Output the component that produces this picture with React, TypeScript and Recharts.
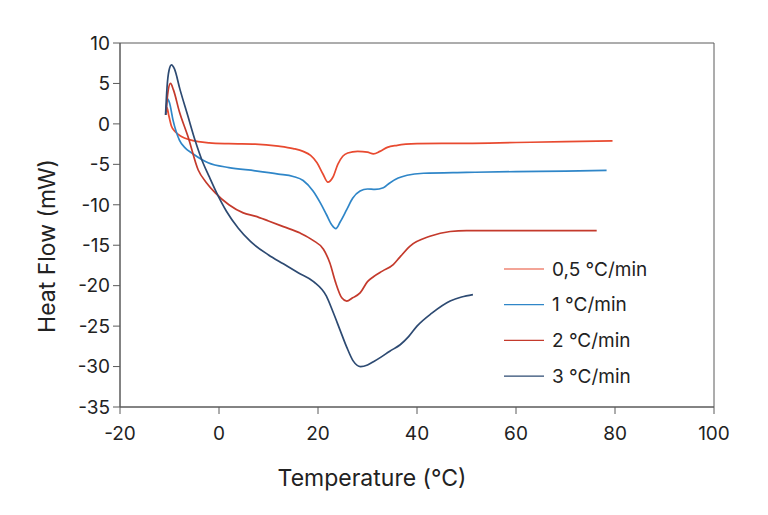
import { LineChart, Line, XAxis, YAxis, ReferenceArea, Label } from "recharts";

// heating rates
const rates = ["0,5 °C/min", "1 °C/min", "2 °C/min", "3 °C/min"];
const colors = ["#e84a30", "#2f86c8", "#c43a2c", "#2d4a72"];

const xTicks = [-20, 0, 20, 40, 60, 80, 100];
const yTicks = [10, 5, 0, -5, -10, -15, -20, -25, -30, -35];

const t05 = [-10.7, -10.5, -10.2, -9.6, -8.8, -7.6, -6, -4.2, -2, 2, 7.3, 12, 15, 17, 18.5, 19.8, 21, 22, 23, 24, 25, 26, 28, 30, 31.2, 32.5, 34, 36, 40, 45, 50, 60, 70, 79.5];
const hf05 = [1.1, 2.0, 1.2, -0.3, -1.0, -1.55, -1.95, -2.2, -2.35, -2.45, -2.5, -2.75, -3.05, -3.4, -3.9, -4.8, -6.2, -7.2, -6.6, -5.0, -4.0, -3.6, -3.4, -3.5, -3.7, -3.4, -2.9, -2.65, -2.45, -2.4, -2.4, -2.3, -2.2, -2.1];

const t1 = [-10.7, -10.4, -10.0, -9.3, -8.0, -6.8, -5.5, -3.5, -2.2, 2, 7.3, 12, 15, 17, 19, 20.5, 21.7, 22.8, 23.6, 24.5, 25.8, 27, 28.5, 30, 31.5, 33.2, 34.5, 36.2, 38, 41.3, 50, 60, 70, 78.3];
const hf1 = [1.3, 3.1, 2.6, 0.5, -2.0, -3.0, -3.6, -4.4, -4.8, -5.4, -5.8, -6.2, -6.5, -7.0, -8.3, -9.8, -11.2, -12.5, -12.95, -12.1, -10.6, -9.2, -8.3, -8.05, -8.1, -7.9, -7.3, -6.7, -6.35, -6.1, -6.0, -5.9, -5.85, -5.75];

const t2 = [-10.7, -10.3, -9.8, -9.2, -8.0, -6.3, -4.2, -2.5, -0.8, 2, 4.9, 7.3, 10, 13, 16.4, 19, 21.1, 22.4, 23.5, 24.8, 25.8, 27, 28.5, 30, 31.2, 33, 35.2, 36.5, 38.6, 42.6, 46.7, 50, 60, 76.3];
const hf2 = [1.5, 4.0, 5.0, 4.2, 1.5, -1.5, -5.7, -7.3, -8.5, -10.0, -11.0, -11.4, -12.0, -12.7, -13.5, -14.4, -15.5, -17.2, -19.5, -21.5, -21.9, -21.5, -20.9, -19.5, -18.9, -18.2, -17.4, -16.5, -15.1, -13.9, -13.3, -13.2, -13.2, -13.2];

const t3 = [-10.8, -10.5, -10.1, -9.6, -9.0, -7.9, -6.3, -4.85, -3.5, -2, -0.5, 1.5, 3.9, 6.3, 10, 13, 16, 19.1, 21.7, 23, 24.4, 25.8, 27.1, 28.6, 30, 31.2, 32.8, 34.5, 36.6, 38.3, 40, 43, 46.7, 49, 51.3];
const hf3 = [1.1, 4.5, 6.6, 7.3, 6.8, 4.3, 1.0, -2.0, -4.4, -6.5, -8.5, -10.8, -12.9, -14.5, -16.2, -17.3, -18.4, -19.5, -21.3, -23.2, -25.4, -27.6, -29.3, -30.0, -29.8, -29.4, -28.8, -28.1, -27.3, -26.3, -25.0, -23.4, -21.9, -21.4, -21.1];

const toRows = (t: number[], hf: number[]) => t.map((x, i) => ({ t: x, hf: hf[i] }));
const series = [toRows(t05, hf05), toRows(t1, hf1), toRows(t2, hf2), toRows(t3, hf3)];

const font = "Inter, 'DejaVu Sans', sans-serif";
const axisColor = "#5a5a5a";
const tickStyle = { fontSize: 19, fill: "#222", fontFamily: font };

// legend sits inside the plot, lower right
function LegendBox() {
  return (
    <svg width={180} height={140} style={{ position: "absolute", left: 500, top: 255, overflow: "visible" }}>
      {rates.map((r, i) => {
        const y = 14 + i * 35.7;
        return (
          <g key={r}>
            <line x1={4} x2={44} y1={y} y2={y} stroke={colors[i]} strokeWidth={1.2} />
            <text x={52} y={y} dy="0.35em" fontSize={19} fill="#222" fontFamily={font}>
              {r}
            </text>
          </g>
        );
      })}
    </svg>
  );
}

export default function App() {
  return (
    <div style={{ position: "absolute", left: 0, top: 0, width: 768, height: 515, background: "#fff" }}>
      <LineChart width={768} height={515} margin={{ top: 43, right: 54, bottom: 48, left: 60 }}>
        <XAxis
          type="number"
          dataKey="t"
          domain={[-20, 100]}
          ticks={xTicks}
          interval={0}
          allowDataOverflow
          stroke={axisColor}
          tickSize={7}
          tickMargin={13}
          height={60}
          tick={tickStyle}
        >
          <Label
            content={() => (
              <text x={372} y={478} textAnchor="middle" dominantBaseline="central" fontSize={23} fill="#222" fontFamily={font}>
                Temperature (°C)
              </text>
            )}
          />
        </XAxis>
        <YAxis
          type="number"
          domain={[-35, 10]}
          ticks={yTicks}
          interval={0}
          allowDataOverflow
          stroke={axisColor}
          tickSize={7}
          tickMargin={3}
          width={60}
          tick={tickStyle}
        >
          <Label
            content={() => (
              <text
                x={47}
                y={246}
                textAnchor="middle"
                dominantBaseline="central"
                fontSize={23}
                fill="#222"
                fontFamily={font}
                transform="rotate(-90 47 246)"
              >
                Heat Flow (mW)
              </text>
            )}
          />
        </YAxis>
        <ReferenceArea x1={-20} x2={100} y1={-35} y2={10} fill="none" stroke={axisColor} strokeWidth={1} />
        {series.map((rows, i) => (
          <Line
            key={rates[i]}
            data={rows}
            dataKey="hf"
            name={rates[i]}
            type="monotone"
            stroke={colors[i]}
            strokeWidth={1.7}
            dot={false}
            activeDot={false}
            isAnimationActive={false}
          />
        ))}
      </LineChart>
      <LegendBox />
    </div>
  );
}
